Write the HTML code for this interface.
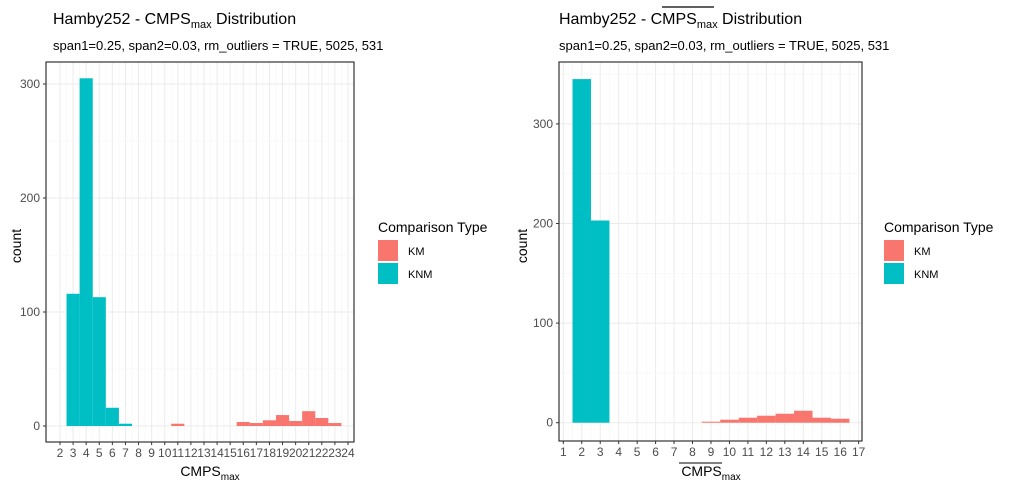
<!DOCTYPE html>
<html><head><meta charset="utf-8"><style>
body{margin:0;background:#fff}
svg{font-family:"Liberation Sans",Arial,sans-serif;display:block}
</style></head><body>
<svg id="c" width="1012" height="492"></svg>
<script>
const leftKnmX=[3,4,5,6,7];
const leftKnmY=[116,305,113,16,2];
const leftKmX=[11,16,17,18,19,20,21,22,23];
const leftKmY=[2,3.5,2.6,5,9.6,4.4,13,7,2.6];
const leftXTicks=[2,3,4,5,6,7,8,9,10,11,12,13,14,15,16,17,18,19,20,21,22,23,24];
const leftYTicks=[0,100,200,300];
const rightKnmX=[2,3];
const rightKnmY=[345,203];
const rightKmX=[9,10,11,12,13,14,15,16];
const rightKmY=[1,3,5,7,9,12,5,4];
const rightXTicks=[1,2,3,4,5,6,7,8,9,10,11,12,13,14,15,16,17];
const rightYTicks=[0,100,200,300];

const NS="http://www.w3.org/2000/svg";
const svg=document.getElementById('c');
function el(tag,attrs,parent,text){const e=document.createElementNS(NS,tag);for(const k in attrs)e.setAttribute(k,attrs[k]);if(text!==undefined)e.textContent=text;(parent||svg).appendChild(e);return e;}

function panel(o){
  const g=el('g',{});
  
  
  const sx=v=>o.x0px+(v-o.x0v)*o.xk;
  const sy=v=>o.zeroY-v*o.yk;
  for(let v=o.xmin;v<=o.xmax;v+=0.5){
    const l=el('line',{x1:sx(v),x2:sx(v),y1:o.top,y2:o.bottom,stroke:Number.isInteger(v)?'#ebebeb':'#f5f5f5','stroke-width':Number.isInteger(v)?1:0.6},g);
    
  }
  for(let v=-50;v<=o.ymaxGrid;v+=50){
    const y=sy(v); if(y<o.top||y>o.bottom)continue;
    const l=el('line',{x1:o.left,x2:o.right,y1:y,y2:y,stroke:v%100===0?'#ebebeb':'#f5f5f5','stroke-width':v%100===0?1:0.6},g);
    
  }
  const bars=(xs,ys,col,nm)=>{xs.forEach((x,i)=>{
    const r=el('rect',{x:sx(x-0.5),y:sy(ys[i]),width:o.xk,height:ys[i]*o.yk,fill:col},g);
    
  });};
  bars(o.knmX,o.knmY,'#00bfc4','knm');
  bars(o.kmX,o.kmY,'#f8766d','km');
  const b=el('rect',{x:o.left,y:o.top,width:o.right-o.left,height:o.bottom-o.top,fill:'none',stroke:'#333','stroke-width':1.2},g);
  
  o.xt.forEach(v=>{
    el('line',{x1:sx(v),x2:sx(v),y1:o.bottom,y2:o.bottom+3,stroke:'#333'},g);
    const t=el('text',{x:sx(v),y:o.bottom+15,'text-anchor':'middle','font-size':12,fill:'#4d4d4d'},g,String(v));
    
  });
  o.yt.forEach(v=>{
    el('line',{x1:o.left-3,x2:o.left,y1:sy(v),y2:sy(v),stroke:'#333'},g);
    const t=el('text',{x:o.left-6,y:sy(v)+4,'text-anchor':'end','font-size':12,fill:'#4d4d4d'},g,String(v));
    
  });
}
panel({name:'left-panel',left:46,right:354,top:62,bottom:442,x0px:60,x0v:2,xk:13.09,zeroY:426,yk:1.14,xmin:2,xmax:24,ymaxGrid:350,
  knmX:leftKnmX,knmY:leftKnmY,kmX:leftKmX,kmY:leftKmY,xt:leftXTicks,yt:leftYTicks});
panel({name:'right-panel',left:559,right:862,top:62,bottom:441,x0px:563.3,x0v:1,xk:18.46,zeroY:422.7,yk:0.996,xmin:1,xmax:17,ymaxGrid:400,
  knmX:rightKnmX,knmY:rightKnmY,kmX:rightKmX,kmY:rightKmY,xt:rightXTicks,yt:rightYTicks});
</script>
<svg style="position:absolute;left:0;top:0" width="1012" height="492">
  <text x="53" y="24" font-size="16" fill="#000">Hamby252 - CMPS<tspan font-size="11" dy="4">max</tspan><tspan dy="-4"> Distribution</tspan></text>
  <text x="53" y="50" font-size="13" fill="#000">span1=0.25, span2=0.03, rm_outliers = TRUE, 5025, 531</text>
  <text x="210" y="476" font-size="14" text-anchor="middle">CMPS<tspan font-size="10" dy="4">max</tspan></text>
  <text transform="translate(21,246) rotate(-90)" font-size="14" text-anchor="middle">count</text>
  <text x="378" y="232" font-size="14">Comparison Type</text>
  <rect x="378" y="240" width="20" height="21" fill="#f8766d"/>
  <text x="408" y="255" font-size="11">KM</text>
  <rect x="378" y="263" width="20" height="21" fill="#00bfc4"/>
  <text x="408" y="278" font-size="11">KNM</text>

  <text x="559" y="24" font-size="16" fill="#000">Hamby252 - <tspan>CMPS</tspan><tspan font-size="11" dy="4">max</tspan><tspan dy="-4"> Distribution</tspan></text>
  <line x1="662" x2="714" y1="7" y2="7" stroke="#000" stroke-width="1.2"/>
  <text x="559" y="50" font-size="13" fill="#000">span1=0.25, span2=0.03, rm_outliers = TRUE, 5025, 531</text>
  <line x1="679" x2="722" y1="463" y2="463" stroke="#000" stroke-width="1"/>
  <text x="711" y="476" font-size="14" text-anchor="middle">CMPS<tspan font-size="10" dy="4">max</tspan></text>
  <text transform="translate(527,246) rotate(-90)" font-size="14" text-anchor="middle">count</text>
  <text x="884" y="232" font-size="14">Comparison Type</text>
  <rect x="884" y="240" width="20" height="21" fill="#f8766d"/>
  <text x="914" y="255" font-size="11">KM</text>
  <rect x="884" y="263" width="20" height="21" fill="#00bfc4"/>
  <text x="914" y="278" font-size="11">KNM</text>
</svg>
</body></html>
